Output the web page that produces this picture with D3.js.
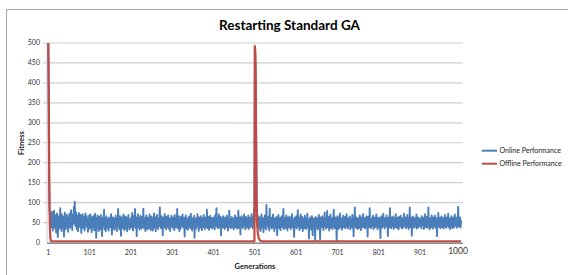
<!DOCTYPE html>
<html>
<head>
<meta charset="utf-8">
<script src="https://cdn.jsdelivr.net/npm/d3@7"></script>
<style>
	body { margin: 0; background: #fff; }
	svg { display: block; font-family: Lato, "Open Sans", sans-serif; }
</style>
</head>
<body>
<div id="chart"></div>
<script>
// chart data
var title = 'Restarting Standard GA';
var xTitle = 'Generations';
var yTitle = 'Fitness';
var seriesNames = ['Online Performance', 'Offline Performance'];
var seriesColors = ['#4a7ebb', '#be4b48'];
var xTickLabels = [1, 101, 201, 301, 401, 501, 601, 701, 801, 901, 1000];
var yTickLabels = [0, 50, 100, 150, 200, 250, 300, 350, 400, 450, 500];

// online performance, one value per generation (1..1000)
var online = [
	500,330,150,82,64,48,71,39,58,77,45,30,62,54,80,41,36,68,52,25,47,73,59,14,44,66,50,35,61,86,42,57,29,70,53,38,64,49,15,58,75,46,33,60,51,69,40,56,27,63,
	48,72,55,37,66,81,44,59,31,70,52,63,90,47,102,58,41,76,53,34,67,49,28,61,74,45,56,39,69,50,24,62,43,71,57,36,64,48,30,59,73,42,55,66,38,51,27,60,46,68,
	35,54,70,41,58,26,63,47,39,66,52,31,57,72,44,50,12,61,45,68,37,53,29,64,48,56,33,69,42,58,16,51,62,40,55,82,34,47,60,28,52,65,43,37,57,49,30,62,46,54,
	39,58,71,44,20,53,63,36,49,60,32,56,45,67,38,52,29,61,47,84,41,55,34,50,66,43,17,57,48,63,37,54,70,42,31,59,46,65,35,51,62,28,56,44,69,40,53,33,58,47,
	61,38,52,74,45,30,57,66,41,55,84,36,49,63,16,58,46,71,39,53,60,32,48,67,43,56,35,64,50,42,85,37,54,45,61,29,57,68,40,51,33,62,47,59,36,70,44,52,31,56,
	65,42,54,30,60,48,73,37,51,63,28,57,45,69,39,53,34,61,46,58,88,41,50,36,66,44,55,18,62,49,38,59,71,43,52,33,64,47,56,40,68,35,53,45,60,29,57,42,67,48,
	54,37,63,46,58,31,69,44,52,39,61,48,84,36,55,42,66,29,57,50,34,64,47,59,41,70,38,53,45,62,15,56,49,68,35,58,43,60,32,54,47,65,40,51,36,72,44,57,30,61,
	46,55,38,67,12,53,44,60,35,58,48,71,41,52,29,63,47,56,37,66,43,54,31,61,50,39,69,45,57,34,62,48,53,40,82,36,59,45,64,32,55,49,67,38,58,43,61,35,52,47,
	63,40,56,33,68,47,54,86,41,59,36,62,45,70,38,55,48,64,18,57,44,60,37,66,50,42,58,34,63,46,53,39,67,45,56,30,61,48,80,41,54,36,59,47,64,38,52,44,60,33,
	57,46,68,39,53,42,62,35,58,49,80,37,55,44,63,20,59,47,66,40,54,36,61,48,70,43,56,33,64,45,52,38,60,47,67,34,57,44,62,39,55,48,71,41,58,36,63,46,86,52,
	490,470,400,300,160,90,60,45,66,41,57,34,63,48,29,58,70,44,53,37,61,26,55,47,68,39,51,33,94,45,59,42,64,36,56,30,85,48,53,40,62,35,57,46,70,38,52,29,60,44,
	55,37,64,47,18,58,43,69,36,53,41,62,31,57,48,66,39,54,45,84,33,59,42,61,50,36,68,44,55,30,63,47,57,39,65,42,52,34,60,46,71,38,56,43,58,14,62,49,54,40,
	66,35,57,44,81,40,53,62,31,58,47,70,37,55,42,64,29,59,46,52,36,67,43,56,34,61,48,72,39,54,45,10,58,37,63,41,55,32,66,49,18,57,43,60,38,52,6,64,46,55,
	40,61,33,58,47,69,36,54,8,63,44,57,39,66,45,52,31,60,48,75,41,55,35,62,47,79,38,56,43,64,30,58,46,70,37,53,42,61,34,57,49,82,40,54,36,63,45,59,5,52,
	66,41,57,34,62,47,73,38,55,44,60,32,58,49,67,39,53,43,64,36,56,46,71,40,54,35,61,48,57,42,65,33,59,45,52,38,69,44,56,16,62,47,88,41,55,37,63,46,58,34,
	60,43,54,37,68,46,57,31,63,49,52,40,71,38,56,44,61,35,58,47,66,42,53,15,64,45,57,39,86,43,55,36,60,48,53,41,67,34,58,46,62,38,55,44,70,40,57,33,61,47,
	54,39,63,45,11,58,42,66,37,56,48,72,41,53,35,61,46,57,40,68,43,54,16,62,49,56,38,86,44,59,36,63,47,52,41,65,34,58,45,60,39,71,43,55,37,62,48,57,33,64,
	46,53,40,67,44,58,35,61,49,56,38,72,42,55,47,63,36,57,45,69,41,54,34,60,48,88,39,56,43,62,17,58,46,65,40,53,37,61,47,57,42,70,35,55,44,63,38,59,46,52,
	60,41,56,36,66,47,53,44,62,34,58,48,71,39,55,45,64,37,57,43,88,40,54,33,61,49,56,38,68,44,59,35,63,46,52,42,67,37,55,48,60,16,57,45,74,40,53,44,62,36,
	58,47,65,39,54,43,61,35,57,49,69,41,55,37,63,46,52,42,72,38,56,44,60,33,58,47,66,40,54,36,62,45,57,39,70,43,55,48,61,37,64,46,90,52,40,58,45,63,38,56
];

// offline performance: the restarts at 1 and 501, flat near zero otherwise
var offlineStart = [500,400,220,90,35,12,5,3];
var offlineRestart = [492,480,420,250,120,60,38,26,18,13,10,8,6,5,4,3];
var offlineFloor = 3;

var offline = online.map(function(v, i){
	if(i < offlineStart.length) return offlineStart[i];
	if(i >= 500 && i - 500 < offlineRestart.length) return offlineRestart[i - 500];
	return offlineFloor;
});

var width = 568, height = 275;
var plot = {left: 47, right: 463, top: 43, bottom: 242.5};

var svg = d3.select('#chart').append('svg')
	.attr('width', width)
	.attr('height', height);

// chart frame
svg.append('path')
	.attr('d', 'M6.5,275 V9.5 H568')
	.attr('fill', 'none')
	.attr('stroke', '#a6a6a6')
	.attr('stroke-width', 1);

var x = d3.scaleLinear().domain([1, 1000]).range([48.3, 461]);
var y = d3.scaleLinear().domain([0, 500]).range([plot.bottom, plot.top]);

// horizontal gridlines + small ticks left of axis
svg.append('g').selectAll('line')
	.data(yTickLabels.filter(d => d > 0))
	.enter().append('line')
	.attr('x1', plot.left - 4)
	.attr('x2', plot.right)
	.attr('y1', d => y(d))
	.attr('y2', d => y(d))
	.attr('stroke', '#cfcfcf')
	.attr('stroke-width', 1.2);

svg.append('line')
	.attr('x1', plot.left).attr('x2', plot.left)
	.attr('y1', plot.top).attr('y2', plot.bottom)
	.attr('stroke', '#cfcfcf')
	.attr('stroke-width', 1);

// y tick labels
svg.append('g').selectAll('text')
	.data(yTickLabels)
	.enter().append('text')
	.attr('x', 40)
	.attr('y', d => y(d))
	.attr('dy', '0.35em')
	.attr('text-anchor', 'end')
	.attr('font-size', 7)
	.attr('fill', '#333')
	.text(d => d);

// x tick labels
svg.append('g').selectAll('text')
	.data(xTickLabels)
	.enter().append('text')
	.attr('x', d => x(d) + (d == 1000 ? -3 : 0))
	.attr('y', d => d == 1000 ? 254 : 255)
	.attr('text-anchor', 'middle')
	.attr('font-size', d => d == 1000 ? 8.5 : 7)
	.attr('fill', '#333')
	.text(d => d);

var line = d3.line()
	.x((d, i) => x(i + 1))
	.y(d => y(d));

[online, offline].forEach(function(series, k){
	svg.append('path')
		.datum(series)
		.attr('fill', 'none')
		.attr('stroke', seriesColors[k])
		.attr('stroke-width', k == 0 ? 1.9 : 2.2)
		.attr('stroke-linejoin', 'round')
		.attr('d', line);
});

// horizontal axis line
svg.append('line')
	.attr('x1', plot.left).attr('x2', plot.right)
	.attr('y1', plot.bottom + 0.8).attr('y2', plot.bottom + 0.8)
	.attr('stroke', '#8c8c8c')
	.attr('stroke-width', 1.4);

// titles
svg.append('text')
	.attr('x', 289.5)
	.attr('y', 30)
	.attr('text-anchor', 'middle')
	.attr('font-size', 13.5)
	.attr('font-weight', 'bold')
	.attr('fill', '#000')
	.text(title);

svg.append('text')
	.attr('x', 255)
	.attr('y', 268.5)
	.attr('text-anchor', 'middle')
	.attr('font-size', 7.5)
	.attr('font-weight', 'bold')
	.attr('fill', '#222')
	.text(xTitle);

svg.append('text')
	.attr('transform', 'translate(24,143) rotate(-90)')
	.attr('text-anchor', 'middle')
	.attr('font-size', 7.5)
	.attr('font-weight', 'bold')
	.attr('fill', '#222')
	.text(yTitle);

// legend
var legend = svg.append('g').selectAll('g')
	.data(seriesNames)
	.enter().append('g')
	.attr('transform', (d, i) => 'translate(482,' + (150.7 + i * 13) + ')');
legend.append('line')
	.attr('x1', 0).attr('x2', 15)
	.attr('stroke', (d, i) => seriesColors[i])
	.attr('stroke-width', 2);
legend.append('text')
	.attr('x', 17.5)
	.attr('dy', '0.35em')
	.attr('font-size', 7)
	.attr('fill', '#222')
	.text(d => d);
</script>
</body>
</html>
